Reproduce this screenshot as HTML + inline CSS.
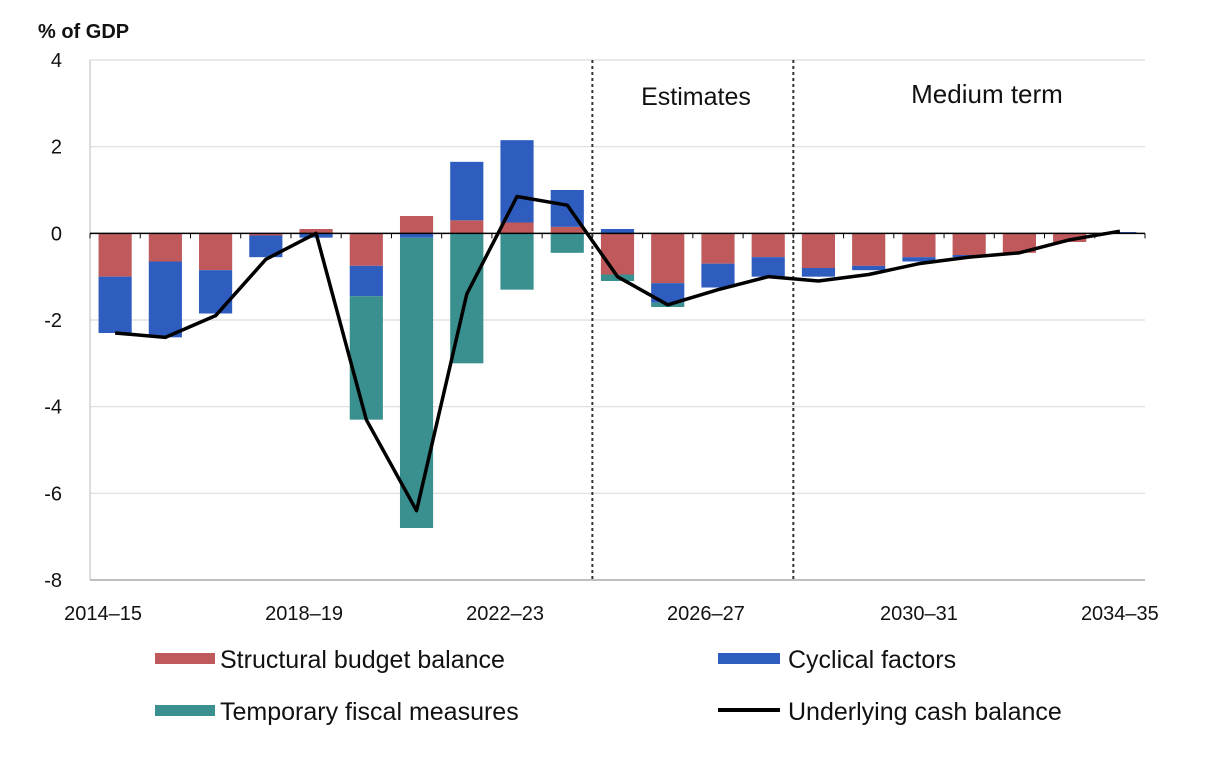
<!DOCTYPE html>
<html><head><meta charset="utf-8">
<style>
body{margin:0;background:#fff;}
svg text{font-family:"Liberation Sans",Arial,sans-serif;fill:#111;}
</style></head>
<body>
<svg id="chart" width="1218" height="762" viewBox="0 0 1218 762" xmlns="http://www.w3.org/2000/svg">
<text x="38" y="38" font-size="20" font-weight="bold">% of GDP</text>
<g id="grid"></g>
<g id="bars"></g>
<g id="axes"></g>
<g id="line"></g>
<text x="696" y="105" font-size="25" text-anchor="middle">Estimates</text>
<text x="987" y="103" font-size="26" text-anchor="middle">Medium term</text>
<g>
  <g><rect x="155" y="653" width="60" height="11" fill="#c0595b"/><text x="220" y="668" font-size="25">Structural budget balance</text></g>
  <g><rect x="718" y="653" width="62" height="11" fill="#2e5dbf"/><text x="788" y="668" font-size="25">Cyclical factors</text></g>
  <g><rect x="155" y="705" width="60" height="11" fill="#3a8f8f"/><text x="220" y="720" font-size="25">Temporary fiscal measures</text></g>
  <g><line x1="718" y1="710" x2="780" y2="710" stroke="#000" stroke-width="4"/><text x="788" y="720" font-size="25">Underlying cash balance</text></g>
</g>
</svg>
<script>
const categories=["2014–15","2015–16","2016–17","2017–18","2018–19","2019–20","2020–21","2021–22","2022–23","2023–24","2024–25","2025–26","2026–27","2027–28","2028–29","2029–30","2030–31","2031–32","2032–33","2033–34","2034–35"];
const structural=[-1.0,-0.65,-0.85,-0.05,0.1,-0.75,0.4,0.3,0.25,0.15,-0.95,-1.15,-0.7,-0.55,-0.8,-0.75,-0.55,-0.5,-0.45,-0.2,0];
const cyclical=[-1.3,-1.75,-1.0,-0.5,-0.1,-0.7,-0.1,1.35,1.9,0.85,0.1,-0.45,-0.55,-0.45,-0.2,-0.1,-0.1,-0.05,0,0,0.03];
const temporary=[0,0,0,0,0,-2.85,-6.7,-3.0,-1.3,-0.45,-0.15,-0.1,0,0,0,0,0,0,0,0,0];
const underlying=[-2.3,-2.4,-1.9,-0.6,0.0,-4.3,-6.4,-1.4,0.85,0.65,-1.0,-1.65,-1.3,-1.0,-1.1,-0.95,-0.7,-0.55,-0.45,-0.15,0.05];
const yTicks=[4,2,0,-2,-4,-6,-8];
const xLabelIdx=[0,4,8,12,16,20];
const dividers=[10,14];

const NS="http://www.w3.org/2000/svg";
const X0=90,X1=1145,Y4=60,Ym8=580;
const bw=(X1-X0)/categories.length;
const y=v=>Y4+(4-v)*(Ym8-Y4)/12;
const xc=i=>X0+bw*(i+0.5);
function mk(tag,attrs,parent){const e=document.createElementNS(NS,tag);for(const k in attrs)e.setAttribute(k,attrs[k]);document.getElementById(parent).appendChild(e);return e;}

yTicks.forEach(t=>{
  const g=mk('line',{x1:X0,x2:X1,y1:y(t),y2:y(t),stroke:t===0?'#000':(t===-8?'#999':'#ddd'),'stroke-width':t===0?1.5:1.2},t===0?'axes':'grid');
  
  
  const tx=mk('text',{x:62,y:y(t)+7,'font-size':20,'text-anchor':'end'},'axes');
  tx.textContent=t;
  
  
});
mk('line',{x1:X0,x2:X0,y1:y(4),y2:y(-8),stroke:'#bbb','stroke-width':1},'grid');
for(let i=0;i<=categories.length;i++){
  const tk=mk('line',{x1:X0+bw*i,x2:X0+bw*i,y1:y(0),y2:y(0)+5,stroke:'#000','stroke-width':1},'axes');
  
  
}
xLabelIdx.forEach(i=>{
  const tx=mk('text',{x:xc(i)-(i===0?12:(i<16?12:0)),y:620,'font-size':20,'text-anchor':'middle'},'axes');
  tx.textContent=categories[i];
  
  
});
dividers.forEach(d=>{
  const l=mk('line',{x1:X0+bw*d,x2:X0+bw*d,y1:y(4),y2:y(-8),stroke:'#333','stroke-width':2,'stroke-dasharray':'3,3'},'axes');
  
  
});
const series=[[structural,'#c0595b','structural'],[cyclical,'#2e5dbf','cyclical'],[temporary,'#3a8f8f','temporary']];
categories.forEach((c,i)=>{
  let pos=0,neg=0;
  series.forEach(([arr,col,nm])=>{
    const v=arr[i]; if(!v) return;
    let a,b;
    if(v>0){a=pos;b=pos+v;pos=b;}else{a=neg;b=neg+v;neg=b;}
    const r=mk('rect',{x:xc(i)-bw*0.33,width:bw*0.66,y:Math.min(y(a),y(b)),height:Math.abs(y(a)-y(b)),fill:col},'bars');
    
    
  });
});
const p=mk('polyline',{points:underlying.map((v,i)=>xc(i)+','+y(v)).join(' '),fill:'none',stroke:'#000','stroke-width':3.5,'stroke-linejoin':'round'},'line');


</script>
</body></html>
